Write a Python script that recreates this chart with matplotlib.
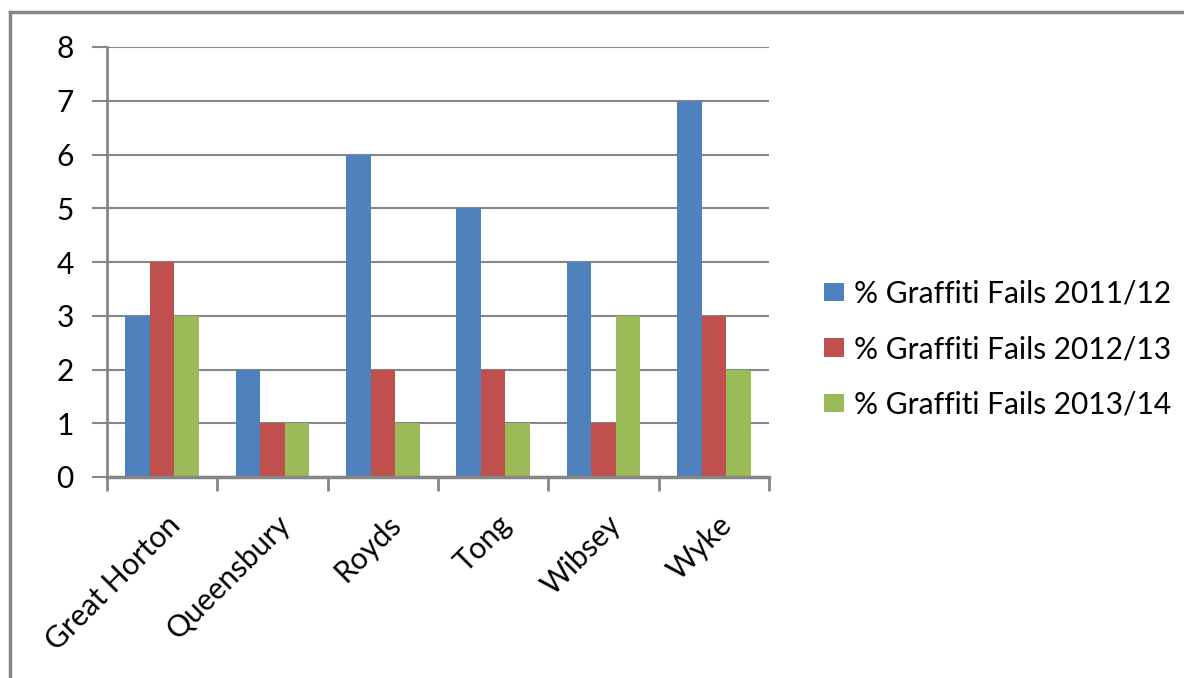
import matplotlib
matplotlib.use("Agg")
import matplotlib.pyplot as plt
from matplotlib.lines import Line2D
import numpy as np

wards = ["Great Horton", "Queensbury", "Royds", "Tong", "Wibsey", "Wyke"]
fails_2011_12 = [3, 2, 6, 5, 4, 7]
fails_2012_13 = [4, 1, 2, 2, 1, 3]
fails_2013_14 = [3, 1, 1, 1, 3, 2]
series_labels = ["% Graffiti Fails 2011/12", "% Graffiti Fails 2012/13", "% Graffiti Fails 2013/14"]
series_colors = ["#4F81BD", "#C0504D", "#9BBB59"]
y_ticks = [0, 1, 2, 3, 4, 5, 6, 7, 8]

plt.rcParams["font.family"] = ["Lato", "DejaVu Sans"]
grey = "#868686"
fs = 21.5

W, H = 1184, 678
fig = plt.figure(figsize=(W / 100, H / 100), dpi=100)
ax = fig.add_axes([107 / W, 1 - 477 / H, (769 - 107) / W, (477 - 47) / H])

x = np.arange(len(wards))
bw = 0.222
for i, (vals, lab, col) in enumerate(zip([fails_2011_12, fails_2012_13, fails_2013_14],
                                         series_labels, series_colors)):
    ax.bar(x + (i - 1) * bw, vals, width=bw, color=col, label=lab, zorder=3)

ax.set_xlim(-0.5, len(wards) - 0.5)
ax.set_ylim(0, 8)
ax.set_yticks(y_ticks)
ax.set_yticklabels([str(v) for v in y_ticks], fontsize=fs)
ax.yaxis.grid(True, color=grey, linewidth=1.5, zorder=0)
ax.tick_params(axis="y", length=11, width=1.5, color=grey, pad=13)

ax.set_xticks(x + 0.03)
ax.set_xticklabels(wards, fontsize=fs, rotation=45, ha="right", va="top",
                   rotation_mode="anchor")
ax.tick_params(axis="x", which="major", length=0, pad=24)
ax.set_xticks(np.arange(-0.5, len(wards), 1), minor=True)
ax.tick_params(axis="x", which="minor", length=10, width=2, color=grey)

for side in ["top", "right"]:
    ax.spines[side].set_visible(False)
ax.spines["left"].set_color(grey)
ax.spines["left"].set_linewidth(2)
ax.spines["bottom"].set_color(grey)
ax.spines["bottom"].set_linewidth(2.5)
ax.spines["bottom"].set_zorder(4)

ax.legend(loc="center left", bbox_to_anchor=(812 / W, 1 - 349 / H),
          bbox_transform=fig.transFigure, frameon=False, fontsize=fs,
          handlelength=0.68, handleheight=0.58, handletextpad=0.33,
          labelspacing=0.92, borderaxespad=0)

# chart-area frame
fig.add_artist(Line2D([10 / W, 10 / W], [0, 1 - 12 / H], color=grey, linewidth=2.5,
                      transform=fig.transFigure))
fig.add_artist(Line2D([10 / W, 1], [1 - 12 / H, 1 - 12 / H], color=grey, linewidth=2.5,
                      transform=fig.transFigure))

fig.savefig("out.png", dpi=100)
